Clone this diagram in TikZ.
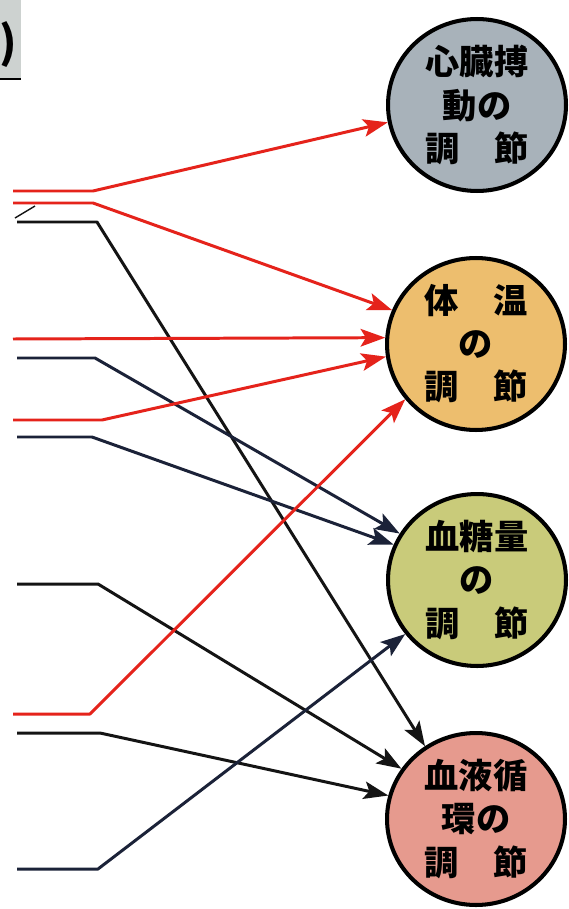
\documentclass[tikz,border=0pt]{standalone}
\usepackage{fontspec}
\newfontfamily\jp{Noto Sans CJK JP}
\usetikzlibrary{arrows.meta,shapes.geometric}
\definecolor{redl}{HTML}{E5231B}
\definecolor{navy}{HTML}{1B2238}
\definecolor{blk}{HTML}{141414}
\definecolor{cgray}{HTML}{A8B2BA}
\definecolor{corange}{HTML}{EDBE6E}
\definecolor{cgreen}{HTML}{C9CB7A}
\definecolor{cpink}{HTML}{E69A8E}
\definecolor{boxgray}{HTML}{CDD2D0}
\begin{document}
\begin{tikzpicture}[x=0.02cm,y=-0.02cm,
  ctl/.style={ellipse, draw=black, line width=2.3pt, minimum width=3.56cm,
    minimum height=3.44cm, inner sep=0pt, align=center,
    font=\jp\bfseries\fontsize{19.5pt}{24.5pt}\selectfont},
  wire/.style={line width=1.7pt, line join=round,
    -{Stealth[length=14pt,width=10pt,inset=3pt]}}]
\useasboundingbox (0,0) rectangle (568,909);
\fill[white] (0,0) rectangle (568,909);

% partial box at top left
\fill[boxgray] (0,0) rectangle (21,79);
\draw[black, line width=1.5pt] (0,79) -- (21,79);
\node[font=\jp\bfseries\fontsize{25pt}{30pt}\selectfont, anchor=west, inner sep=0pt] (paren) at (-1,45) {)};

% circles
\node[ctl, fill=cgray]   (c1) at (477,105) {心臓搏\\動の\\調　節};
\node[ctl, fill=corange] (c2) at (476,344) {体　温\\の\\調　節};
\node[ctl, fill=cgreen]  (c3) at (477,580) {血糖量\\の\\調　節};
\node[ctl, fill=cpink]   (c4) at (476,819) {血液循\\環の\\調　節};

% start and bend points
\coordinate (r1s) at (13,191); \coordinate (r1b) at (93,191);
\coordinate (r2s) at (13,203); \coordinate (r2b) at (93,203);
\coordinate (r3s) at (13,339);
\coordinate (r4s) at (13,420); \coordinate (r4b) at (102,420);
\coordinate (r5s) at (13,714); \coordinate (r5b) at (90,714);
\coordinate (k1s) at (17,222); \coordinate (k1b) at (97,222);
\coordinate (k2s) at (17,358); \coordinate (k2b) at (95,358);
\coordinate (k3s) at (17,437); \coordinate (k3b) at (92,437);
\coordinate (k4s) at (17,584); \coordinate (k4b) at (98,584);
\coordinate (k5s) at (17,733); \coordinate (k5b) at (100,733);
\coordinate (k6s) at (17,869); \coordinate (k6b) at (98,869);
\coordinate (t1) at (15,218); \coordinate (t2) at (35,206);

% connectors
\draw[wire, blk]  (k1s) -- (k1b) -- (c4.125);
\draw[wire, navy] (k2s) -- (k2b) -- (c3.149);
\draw[wire, navy] (k3s) -- (k3b) -- (c3.157);
\draw[wire, blk]  (k4s) -- (k4b) -- (c4.146);
\draw[wire, blk]  (k5s) -- (k5b) -- (c4.165);
\draw[wire, navy] (k6s) -- (k6b) -- (c3.217);
\draw[wire, redl] (r1s) -- (r1b) -- (c1.191);
\draw[wire, redl] (r2s) -- (r2b) -- (c2.158);
\draw[wire, redl] (r3s) -- (c2.176);
\draw[wire, redl] (r4s) -- (r4b) -- (c2.188);
\draw[wire, redl] (r5s) -- (r5b) -- (c2.218);
\draw[blk, line width=0.8pt] (t1) -- (t2);
\end{tikzpicture}
\end{document}
